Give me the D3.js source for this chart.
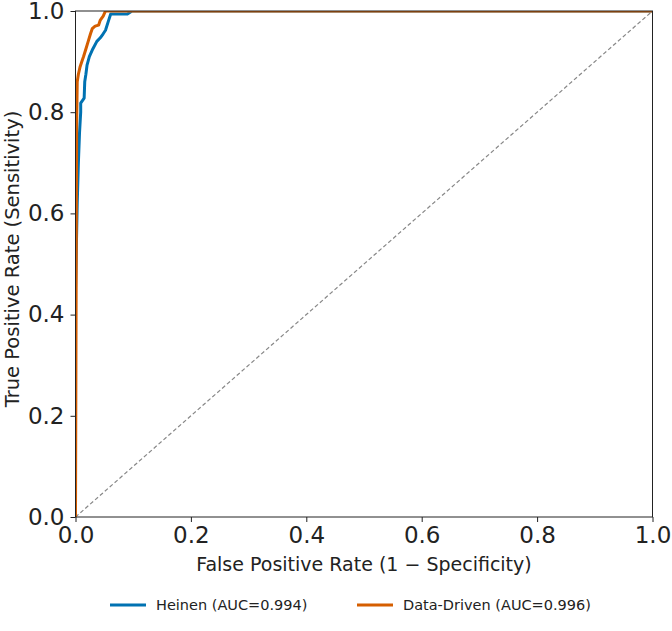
<!DOCTYPE html>
<html>
<head>
<meta charset="utf-8">
<script src="https://cdn.jsdelivr.net/npm/d3@7"></script>
<style>
  body { margin: 0; background: #fff; }
  .chart { width: 672px; height: 631px; }
  text { font-family: "DejaVu Sans", sans-serif; fill: #222; }
</style>
</head>
<body>
<div class="chart"></div>
<script>
// ROC points
const heinenFpr = [0, 0, 0.003, 0.005, 0.007, 0.009, 0.009, 0.015, 0.016, 0.018, 0.020, 0.024, 0.030, 0.037, 0.043, 0.048, 0.052, 0.057, 0.061, 0.090, 0.098, 1.0];
const heinenTpr = [0, 0.45, 0.62, 0.70, 0.76, 0.80, 0.818, 0.828, 0.86, 0.875, 0.893, 0.91, 0.925, 0.94, 0.947, 0.955, 0.962, 0.98, 0.994, 0.994, 1.0, 1.0];
const drivenFpr = [0, 0.001, 0.002, 0.003, 0.005, 0.008, 0.011, 0.014, 0.018, 0.022, 0.026, 0.029, 0.034, 0.040, 0.043, 0.048, 0.052, 1.0];
const drivenTpr = [0, 0.40, 0.78, 0.86, 0.875, 0.89, 0.90, 0.91, 0.925, 0.94, 0.955, 0.965, 0.97, 0.972, 0.982, 0.99, 1.0, 1.0];
const seriesNames = ['Heinen (AUC=0.994)', 'Data-Driven (AUC=0.996)'];
const seriesColors = ['#0072B2', '#D55E00'];
const ticks = [0, 0.2, 0.4, 0.6, 0.8, 1.0];

const width = 672, height = 631;
const plotLeft = 75.5, plotRight = 652.5, plotTop = 11, plotBottom = 517;

const svg = d3.select('.chart').append('svg')
  .attr('width', width)
  .attr('height', height);

svg.append('clipPath').attr('id', 'clip')
  .append('rect')
  .attr('x', plotLeft).attr('y', plotTop)
  .attr('width', plotRight - plotLeft).attr('height', plotBottom - plotTop);

const x = d3.scaleLinear().domain([0, 1]).range([plotLeft, plotRight]);
const y = d3.scaleLinear().domain([0, 1]).range([plotBottom, plotTop]);

const plot = svg.append('g').attr('clip-path', 'url(#clip)');

// chance line
plot.append('line')
  .attr('x1', x(0)).attr('y1', y(0))
  .attr('x2', x(1)).attr('y2', y(1))
  .style('stroke', '#888')
  .style('stroke-width', 1.2)
  .style('stroke-dasharray', '4,2.5');

const line = d3.line().x(d => x(d[0])).y(d => y(d[1]));
const series = [
  d3.zip(heinenFpr, heinenTpr),
  d3.zip(drivenFpr, drivenTpr)
];
series.forEach((pts, i) => {
  plot.append('path')
    .datum(pts)
    .attr('d', line)
    .style('fill', 'none')
    .style('stroke', seriesColors[i])
    .style('stroke-width', 3)
    .style('stroke-linejoin', 'round');
});

// axes
const fmt = d3.format('.1f');
const xAxis = svg.append('g')
  .attr('transform', `translate(0,${plotBottom})`)
  .call(d3.axisBottom(x).tickValues(ticks).tickFormat(fmt).tickSize(5).tickPadding(5));
const yAxis = svg.append('g')
  .attr('transform', `translate(${plotLeft},0)`)
  .call(d3.axisLeft(y).tickValues(ticks).tickFormat(fmt).tickSize(5).tickPadding(6));
[xAxis, yAxis].forEach(a => {
  a.selectAll('text').style('font-size', '23px').style('fill', '#222');
  a.selectAll('line, path').style('stroke', '#222');
});
xAxis.select('.domain').remove();
yAxis.select('.domain').remove();

// frame
svg.append('rect')
  .attr('x', plotLeft).attr('y', plotTop)
  .attr('width', plotRight - plotLeft).attr('height', plotBottom - plotTop)
  .style('fill', 'none')
  .style('stroke', '#222')
  .style('stroke-width', 1);

svg.append('text')
  .attr('x', (plotLeft + plotRight) / 2)
  .attr('y', 571)
  .attr('text-anchor', 'middle')
  .style('font-size', '19px')
  .text('False Positive Rate (1 \u2212 Specificity)');

svg.append('text')
  .attr('transform', `translate(19,${(plotTop + plotBottom) / 2 - 5}) rotate(-90)`)
  .attr('text-anchor', 'middle')
  .style('font-size', '19.5px')
  .text('True Positive Rate (Sensitivity)');

// legend
const legendX = [110, 357];
seriesNames.forEach((name, i) => {
  svg.append('line')
    .attr('x1', legendX[i]).attr('x2', legendX[i] + 36)
    .attr('y1', 605).attr('y2', 605)
    .style('stroke', seriesColors[i])
    .style('stroke-width', 3);
  svg.append('text')
    .attr('x', legendX[i] + 46)
    .attr('y', 610)
    .style('font-size', '14.5px')
    .text(name);
});
</script>
</body>
</html>
